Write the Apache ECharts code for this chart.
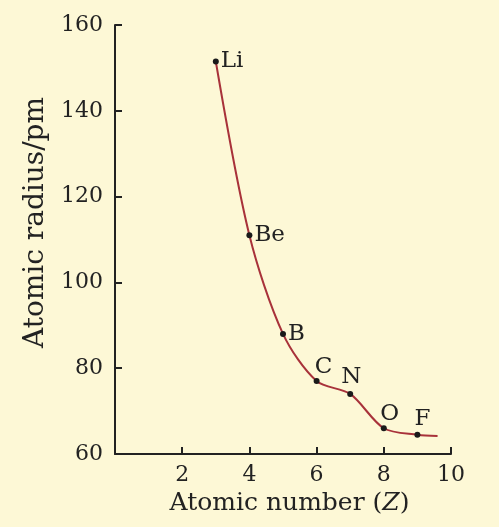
<!DOCTYPE html>
<html>
<head>
<meta charset="utf-8">
<script src="https://cdn.jsdelivr.net/npm/echarts@6/dist/echarts.min.js"></script>
<style>
  html, body { margin: 0; padding: 0; background: #fdf8d6; }
  #chart { width: 499px; height: 527px; }
</style>
</head>
<body>
<div id="chart"></div>
<script>
// atomic radius across period 2
var elements = ['Li', 'Be', 'B', 'C', 'N', 'O', 'F'];
var atomicNumbers = [3, 4, 5, 6, 7, 8, 9];
var radii = [151.5, 111, 88, 77, 74, 66, 64.5];
// the drawn curve runs on a little past F
var tailZ = 9.6;
var tailRadius = 64.2;

// where each element's name sits next to its dot
var labelLook = {
  Li: { position: 'right' },
  Be: { position: 'right' },
  B: { position: 'right' },
  C: { position: 'top', offset: [7, 2] },
  N: { position: 'top', offset: [1, 0] },
  O: { position: 'top', offset: [6, 2] },
  F: { position: 'top', offset: [5, 1] }
};
var serif = 'DejaVu Serif';

var chart = echarts.init(document.getElementById('chart'));

var pts = atomicNumbers.map(function (z, i) {
  var look = labelLook[elements[i]];
  return {
    name: elements[i],
    value: [z, radii[i]],
    label: { show: true, position: look.position, offset: look.offset || [0, 0], formatter: '{b}' }
  };
});
pts.push({ value: [tailZ, tailRadius], symbol: 'none' });

chart.setOption({
  backgroundColor: '#fdf8d6',
  animation: false,
  grid: { left: 115, right: 48, top: 25, bottom: 73 },
  xAxis: {
    type: 'value',
    min: 0,
    max: 10,
    interval: 2,
    name: 'Atomic number ({i|Z})',
    nameLocation: 'middle',
    nameGap: 33,
    nameTextStyle: {
      fontFamily: serif, fontSize: 25, color: '#222',
      padding: [0, 0, 0, 13],
      rich: { i: { fontFamily: serif, fontSize: 25, fontStyle: 'italic', color: '#222' } }
    },
    axisLine: { lineStyle: { color: '#222', width: 2 } },
    axisTick: { inside: true, length: 7, lineStyle: { color: '#222', width: 2 } },
    axisLabel: {
      fontFamily: serif, fontSize: 22, color: '#222', margin: 10,
      formatter: function (v) { return v === 0 ? '' : v; }
    },
    splitLine: { show: false }
  },
  yAxis: {
    type: 'value',
    min: 60,
    max: 160,
    interval: 20,
    name: 'Atomic radius/pm',
    nameLocation: 'middle',
    nameGap: 63,
    nameTextStyle: { fontFamily: serif, fontSize: 28, color: '#222', padding: [0, 0, 0, 34] },
    axisLine: { lineStyle: { color: '#222', width: 2 } },
    axisTick: { inside: true, length: 7, lineStyle: { color: '#222', width: 2 } },
    axisLabel: { fontFamily: serif, fontSize: 22, color: '#222', margin: 12 },
    splitLine: { show: false }
  },
  series: [{
    type: 'line',
    data: pts,
    smooth: 0.3,
    symbol: 'circle',
    symbolSize: 6,
    itemStyle: { color: '#1a1a1a' },
    lineStyle: { color: '#a8323a', width: 2 },
    label: { fontFamily: serif, fontSize: 23, color: '#222', distance: 2 }
  }]
});
</script>
</body>
</html>
